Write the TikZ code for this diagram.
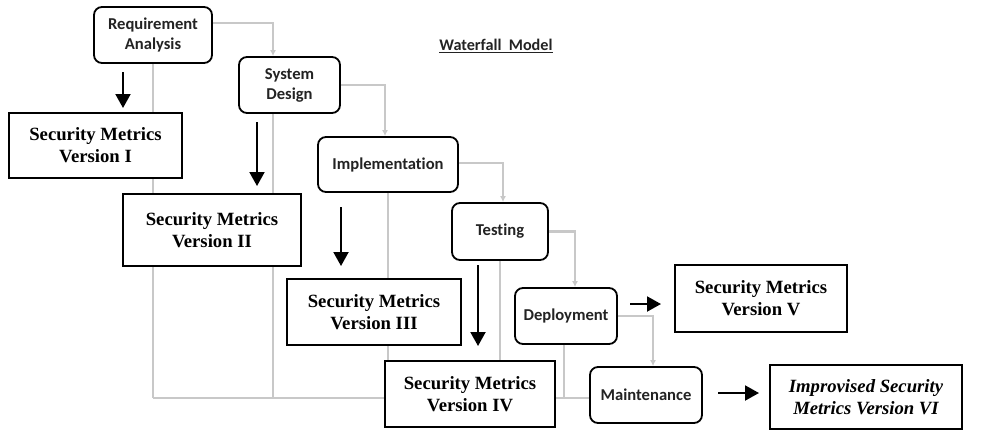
\documentclass[tikz,border=0pt]{standalone}
\usepackage{fontspec}
\setmainfont{Liberation Serif}
\newfontfamily\calfont[Ligatures=NoCommon]{Carlito}
\usetikzlibrary{arrows.meta,calc}
\definecolor{flowgray}{RGB}{200,200,200}
\definecolor{boxtext}{RGB}{35,35,35}
\tikzset{
  phase/.style={draw=black, line width=1.8pt, rounded corners=8pt, fill=white, align=center,
    font=\calfont\bfseries\fontsize{16.6}{20}\selectfont, text=boxtext, inner sep=0pt},
  metric/.style={draw=black, line width=2pt, fill=white, align=center,
    font=\bfseries\fontsize{18.7}{22}\selectfont, inner sep=0pt},
  flow/.style={draw=flowgray, line width=2.4pt, -{Latex[length=6pt,width=6pt]}},
  back/.style={draw=flowgray, line width=2.4pt},
  bigarrow/.style={draw=black, line width=2pt, -{Triangle[length=14pt,width=15pt]}}
}
\begin{document}
\begin{tikzpicture}[x=1pt,y=-1pt]
\useasboundingbox (0,0) rectangle (992,432);
% phases
\node[phase, minimum width=118pt, minimum height=56pt] (req) at (153,35) {Requirement\\Analysis};
\node[phase, minimum width=101pt, minimum height=56pt] (sd) at (289.5,85) {System\\Design};
\node[phase, minimum width=140pt, minimum height=55pt] (impl) at (388,164.5) {Implementation};
\node[phase, minimum width=96pt, minimum height=57pt] (test) at (500,231.5) {Testing};
\node[phase, minimum width=102pt, minimum height=56pt] (dep) at (566,316) {Deployment};
\node[phase, minimum width=112pt, minimum height=56pt] (maint) at (646,395) {Maintenance};
% title
\node[font=\calfont\bfseries\fontsize{16.2}{18}\selectfont, text=boxtext] (title) at (496,46) {\underline{Waterfall\ \ Model}};
% gray feedback lines
\coordinate (bot) at (0,398);
\draw[back] (maint.west |- bot) -- (req.south |- bot);
\draw[back] (req.south) -- (req.south |- bot);
\draw[back] ([xshift=-16.5pt]sd.south) -- ([xshift=-16.5pt]sd.south |- bot);
\draw[back] (impl.south) -- (impl.south |- bot);
\draw[back] (test.south) -- (test.south |- bot);
\draw[back] ([xshift=-2pt]dep.south) -- ([xshift=-2pt]dep.south |- bot);
% gray flow
\draw[flow] ([yshift=12pt]req.east) -| ([xshift=-16.5pt]sd.north);
\draw[flow] (sd.east) -| ([xshift=-3pt]impl.north);
\draw[flow] ([yshift=1.5pt]impl.east) -| ([xshift=3pt]test.north);
\draw[flow] (test.east) -| ([xshift=9pt]dep.north);
\draw[flow] (dep.east) -| ([xshift=7pt]maint.north);
% metrics
\node[metric, minimum width=173pt, minimum height=65pt] (m1) at (95.5,145.5) {Security Metrics\\Version I};
\node[metric, minimum width=178pt, minimum height=72pt] (m2) at (212,230) {Security Metrics\\Version II};
\node[metric, minimum width=174pt, minimum height=66pt] (m3) at (374,312) {Security Metrics\\Version III};
\node[metric, minimum width=170pt, minimum height=66pt] (m4) at (470,394) {Security Metrics\\Version IV};
\node[metric, minimum width=172pt, minimum height=67pt] (m5) at (761,298.5) {Security Metrics\\Version V};
\node[metric, minimum width=192pt, minimum height=64pt, font=\bfseries\itshape\fontsize{18.7}{22}\selectfont] (m6) at (866,397) {Improvised Security\\Metrics Version VI};
% black arrows
\coordinate (a1s) at (123,72);  \coordinate (a1e) at (123,108);
\coordinate (a2s) at (257,122); \coordinate (a2e) at (257,186);
\coordinate (a3s) at (341,207); \coordinate (a3e) at (341,266);
\coordinate (a4s) at (478,265); \coordinate (a4e) at (478,346);
\coordinate (a5s) at (630,304); \coordinate (a5e) at (661,304);
\coordinate (a6s) at (718,393); \coordinate (a6e) at (759,393);
\draw[bigarrow] (a1s) -- (a1e);
\draw[bigarrow] (a2s) -- (a2e);
\draw[bigarrow] (a3s) -- (a3e);
\draw[bigarrow] (a4s) -- (a4e);
\draw[bigarrow] (a5s) -- (a5e);
\draw[bigarrow] (a6s) -- (a6e);
\end{tikzpicture}
\end{document}
